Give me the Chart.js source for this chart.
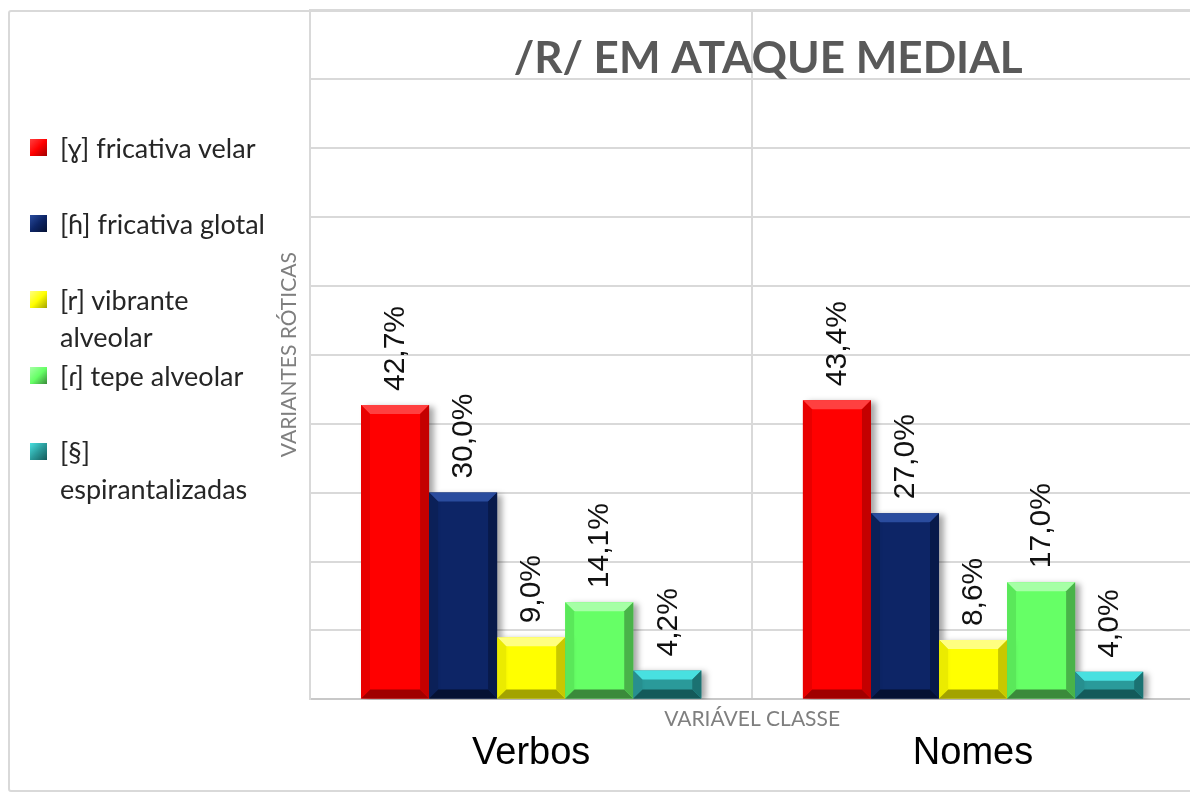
<!DOCTYPE html>
<html>
<head>
<meta charset="utf-8">
<script src="https://cdn.jsdelivr.net/npm/chart.js@4/dist/chart.umd.min.js"></script>
<style>
  html, body { margin: 0; padding: 0; background: #fff; }
  #wrap { position: relative; width: 1190px; height: 792px; overflow: hidden; }
  #frame { position: absolute; left: 8px; top: 10px; width: 1200px; height: 778px;
           border: 2px solid #d9d9d9; border-radius: 3px; }
  #chart { position: absolute; left: 0; top: 0; }
  #legend { position: absolute; left: 30px; top: 129px;
            font-family: Lato, 'Noto Sans', 'DejaVu Sans', sans-serif; font-size: 27px;
            color: #262626; line-height: 37px; }
  .item { display: flex; align-items: flex-start; min-height: 76px; }
  .mark { width: 17px; height: 17px; margin-top: 10px; margin-right: 13px; flex: none; }
</style>
</head>
<body>
<div id="wrap">
  <div id="frame"></div>
  <canvas id="chart" width="1194" height="792"></canvas>
  <div id="legend"></div>
</div>
<script>
const categories = ['Verbos', 'Nomes'];
const seriesNames = ['[ɣ] fricativa velar', '[ɦ] fricativa glotal', '[r] vibrante alveolar', '[ɾ] tepe alveolar', '[§] espirantalizadas'];
const legendLines = [['[ɣ] fricativa velar'], ['[ɦ] fricativa glotal'], ['[r] vibrante', 'alveolar'], ['[ɾ] tepe alveolar'], ['[§]', 'espirantalizadas']];
const velar = [42.7, 43.4];
const glotal = [30.0, 27.0];
const vibrante = [9.0, 8.6];
const tepe = [14.1, 17.0];
const espirant = [4.2, 4.0];
const yMin = 0, yMax = 100, yStep = 10;

// body, top, bottom, right, left
const palette = [
  ['#ff0000', '#ff4040', '#a00000', '#c40000', '#e80000'],
  ['#0d2566', '#2a4c9e', '#051133', '#081a4a', '#0b2058'],
  ['#ffff00', '#ffff80', '#a3a300', '#c8c800', '#ebeb00'],
  ['#66ff66', '#a6ffa6', '#3b8a3b', '#49b349', '#5ae85a'],
  ['#2a9a9a', '#48e0e0', '#145a5a', '#1b7272', '#278f8f']
];

const seriesData = [velar, glotal, vibrante, tepe, espirant];

// legend
const legendEl = document.getElementById('legend');
legendLines.forEach((lines, i) => {
  const p = palette[i];
  const item = document.createElement('div');
  item.className = 'item';
  const mark = document.createElement('div');
  mark.className = 'mark';
  mark.style.background = 'linear-gradient(135deg, ' + p[1] + ' 0%, ' + p[0] + ' 50%, ' + p[2] + ' 100%)';
  const txt = document.createElement('div');
  txt.innerHTML = lines.join('<br>');
  item.appendChild(mark);
  item.appendChild(txt);
  legendEl.appendChild(item);
});

const fmt = v => v.toFixed(1).replace('.', ',') + '%';

const barStyle = {
  id: 'barStyle',
  beforeDatasetsDraw(chart) {
    const ctx = chart.ctx;
    ctx.save();
    ctx.shadowColor = 'rgba(0,0,0,0.35)';
    ctx.shadowBlur = 6;
    ctx.shadowOffsetX = 5;
    ctx.shadowOffsetY = 2;
  },
  afterDatasetsDraw(chart) {
    const ctx = chart.ctx;
    ctx.restore();
    const b = 9;
    chart.data.datasets.forEach((ds, i) => {
      const p = palette[i];
      chart.getDatasetMeta(i).data.forEach((bar, j) => {
        const x0 = bar.x - bar.width / 2, x1 = bar.x + bar.width / 2;
        const y0 = bar.y, y1 = bar.base;
        const poly = (pts, col) => {
          ctx.beginPath();
          ctx.moveTo(pts[0][0], pts[0][1]);
          for (let k = 1; k < pts.length; k++) ctx.lineTo(pts[k][0], pts[k][1]);
          ctx.closePath();
          ctx.fillStyle = col;
          ctx.fill();
        };
        poly([[x0, y0], [x1, y0], [x1 - b, y0 + b], [x0 + b, y0 + b]], p[1]);
        poly([[x0, y1], [x1, y1], [x1 - b, y1 - b], [x0 + b, y1 - b]], p[2]);
        poly([[x1, y0], [x1, y1], [x1 - b, y1 - b], [x1 - b, y0 + b]], p[3]);
        poly([[x0, y0], [x0, y1], [x0 + b, y1 - b], [x0 + b, y0 + b]], p[4]);
        // value label
        ctx.save();
        ctx.translate(bar.x, y0 - 14);
        ctx.rotate(-Math.PI / 2);
        ctx.font = '30px "Liberation Sans", Arial, sans-serif';
        ctx.fillStyle = '#111';
        ctx.textAlign = 'left';
        ctx.textBaseline = 'middle';
        ctx.fillText(fmt(ds.data[j]), 0, 1);
        ctx.restore();
      });
    });
  },
  afterDraw(chart) {
    const ctx = chart.ctx;
    const area = chart.chartArea;
    ctx.save();
    ctx.textAlign = 'center';
    ctx.textBaseline = 'middle';
    ctx.fillStyle = '#595959';
    ctx.font = 'bold 44px Lato, sans-serif';
    ctx.fillText('/R/ EM ATAQUE MEDIAL', area.left + area.width / 2 + 16, 59);
    ctx.fillStyle = '#7f7f7f';
    ctx.font = '21px Lato, sans-serif';
    ctx.fillText('VARIÁVEL CLASSE', area.left + area.width / 2, area.bottom + 20);
    ctx.restore();
  }
};

new Chart(document.getElementById('chart').getContext('2d'), {
  type: 'bar',
  data: {
    labels: categories,
    datasets: seriesNames.map((name, i) => ({
      label: name,
      data: seriesData[i],
      backgroundColor: palette[i][0],
      borderWidth: 0,
      categoryPercentage: 0.77,
      barPercentage: 1
    }))
  },
  options: {
    responsive: false,
    devicePixelRatio: 1,
    animation: false,
    layout: { padding: { left: 273, top: 10, right: 0, bottom: -15 } },
    plugins: {
      legend: { display: false },
      tooltip: { enabled: false },
      title: { display: false }
    },
    scales: {
      x: {
        grid: { color: '#d9d9d9', lineWidth: 2, drawTicks: false, offset: true },
        border: { color: '#c8c8c8', width: 2 },
        ticks: {
          padding: 31,
          maxRotation: 0,
          color: '#000',
          font: { family: '"Liberation Sans", Arial, sans-serif', size: 38 }
        }
      },
      y: {
        min: yMin,
        max: yMax,
        ticks: { display: false, stepSize: yStep },
        grid: { color: '#d9d9d9', lineWidth: 2, drawTicks: false },
        border: { color: '#d9d9d9', width: 2 },
        title: {
          display: true,
          text: 'VARIANTES RÓTICAS',
          color: '#7f7f7f',
          font: { family: 'Lato, sans-serif', size: 21 },
          padding: { top: 4, bottom: 8 }
        }
      }
    }
  },
  plugins: [barStyle]
});
</script>
</body>
</html>
